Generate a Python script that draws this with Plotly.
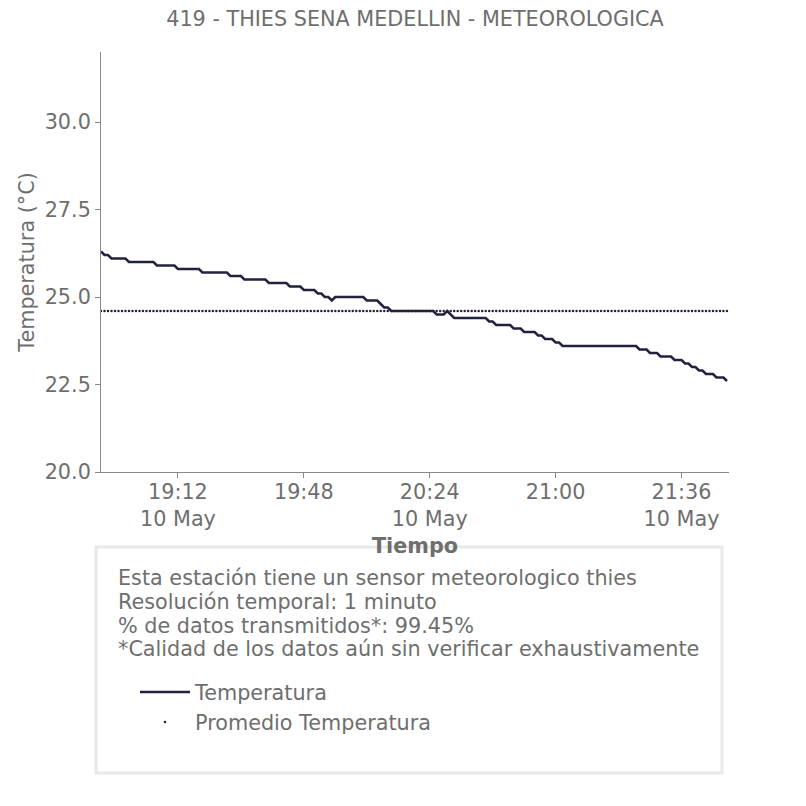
import pandas as pd
import plotly.graph_objects as go

title_text = "419 - THIES SENA MEDELLIN - METEOROLOGICA"
start_time = "2023-05-10 18:50"
n_minutes = 180

temperatura = [
    26.3, 26.2, 26.2, 26.1, 26.1, 26.1, 26.1, 26.1, 26.0, 26.0,
    26.0, 26.0, 26.0, 26.0, 26.0, 26.0, 25.9, 25.9, 25.9, 25.9,
    25.9, 25.9, 25.8, 25.8, 25.8, 25.8, 25.8, 25.8, 25.8, 25.7,
    25.7, 25.7, 25.7, 25.7, 25.7, 25.7, 25.7, 25.6, 25.6, 25.6,
    25.6, 25.5, 25.5, 25.5, 25.5, 25.5, 25.5, 25.5, 25.4, 25.4,
    25.4, 25.4, 25.4, 25.4, 25.3, 25.3, 25.3, 25.3, 25.2, 25.2,
    25.2, 25.2, 25.1, 25.1, 25.0, 25.0, 24.9, 25.0, 25.0, 25.0,
    25.0, 25.0, 25.0, 25.0, 25.0, 25.0, 24.9, 24.9, 24.9, 24.9,
    24.8, 24.7, 24.7, 24.6, 24.6, 24.6, 24.6, 24.6, 24.6, 24.6,
    24.6, 24.6, 24.6, 24.6, 24.6, 24.6, 24.5, 24.5, 24.5, 24.6,
    24.5, 24.4, 24.4, 24.4, 24.4, 24.4, 24.4, 24.4, 24.4, 24.4,
    24.4, 24.3, 24.3, 24.2, 24.2, 24.2, 24.2, 24.2, 24.1, 24.1,
    24.1, 24.0, 24.0, 24.0, 24.0, 23.9, 23.9, 23.8, 23.8, 23.8,
    23.7, 23.7, 23.6, 23.6, 23.6, 23.6, 23.6, 23.6, 23.6, 23.6,
    23.6, 23.6, 23.6, 23.6, 23.6, 23.6, 23.6, 23.6, 23.6, 23.6,
    23.6, 23.6, 23.6, 23.6, 23.5, 23.5, 23.5, 23.4, 23.4, 23.4,
    23.3, 23.3, 23.3, 23.3, 23.2, 23.2, 23.2, 23.1, 23.1, 23.0,
    23.0, 22.9, 22.9, 22.8, 22.8, 22.8, 22.7, 22.7, 22.7, 22.6,
]
promedio = 24.6

x_tickvals = ["2023-05-10 19:12", "2023-05-10 19:48", "2023-05-10 20:24",
              "2023-05-10 21:00", "2023-05-10 21:36"]
x_ticktext = ["19:12<br>10 May", "19:48", "20:24<br>10 May", "21:00", "21:36<br>10 May"]
y_tickvals = [20.0, 22.5, 25.0, 27.5, 30.0]
y_range = [20, 32]

info_lines = [
    "Esta estación tiene un sensor meteorologico thies",
    "Resolución temporal: 1 minuto",
    "% de datos transmitidos*: 99.45%",
    "*Calidad de los datos aún sin verificar exhaustivamente",
]

times = pd.date_range(start=start_time, periods=n_minutes, freq="1min")

FONT = "DejaVu Sans"
GREY = "rgb(110,110,110)"
NAVY = "#22223f"
FS = 20.75

# plot area in page pixels: x 101..729, y 52..472 (page has an 8px body offset)
PX0, PY0, PW, PH = 101, 52, 628, 420
OFF = 8


def px(x):
    return (x - PX0) / PW


def py(y):
    return (PY0 + PH - y) / PH


fig = go.Figure()
fig.add_trace(go.Scatter(
    x=times, y=temperatura, mode="lines", name="Temperatura",
    line=dict(color=NAVY, width=2.5),
))
fig.add_trace(go.Scatter(
    x=times, y=[promedio] * len(times), mode="markers", name="Promedio Temperatura",
    marker=dict(color=NAVY, size=2.5),
))

fig.update_layout(
    width=806, height=806,
    paper_bgcolor="white", plot_bgcolor="white",
    font=dict(family=FONT, color=GREY, size=FS),
    margin=dict(l=PX0 - OFF, r=806 - (PX0 - OFF) - PW, t=PY0 - OFF,
                b=806 - (PY0 - OFF) - PH, autoexpand=False),
    title=dict(text=title_text, x=(415 - OFF) / 806, xanchor="center",
               y=1 - (19 - OFF) / 806, yanchor="middle",
               font=dict(size=FS, color=GREY)),
    xaxis=dict(
        title=dict(text="<b>Tiempo</b>", font=dict(size=FS, color=GREY), standoff=8),
        range=[times[0], times[-1] + pd.Timedelta(seconds=35)],
        tickvals=x_tickvals, ticktext=x_ticktext,
        showgrid=False, zeroline=False, showline=True, linecolor="#888888", linewidth=1,
        ticks="outside", ticklen=5, tickcolor="#888888", ticklabelstandoff=-4,
        tickfont=dict(size=FS, color=GREY),
    ),
    yaxis=dict(
        title=dict(text="Temperatura (°C)", font=dict(size=FS, color=GREY), standoff=4),
        range=y_range, tickvals=y_tickvals, tickformat=".1f",
        showgrid=False, zeroline=False, showline=True, linecolor="#888888", linewidth=1,
        ticks="outside", ticklen=5, tickcolor="#888888",
        tickfont=dict(size=FS, color=GREY),
    ),
    legend=dict(
        x=px(135), y=py(672), xanchor="left", yanchor="top",
        bgcolor="rgba(0,0,0,0)", font=dict(size=FS, color=GREY),
        itemwidth=50,
    ),
    showlegend=True,
)

fig.add_shape(
    type="rect", xref="paper", yref="paper",
    x0=px(96), x1=px(722), y0=py(773), y1=py(547),
    line=dict(color="#e8e8e8", width=3), fillcolor="rgba(0,0,0,0)", layer="below",
)

line_centers = [578, 602, 626, 649]
for txt, yc in zip(info_lines, line_centers):
    fig.add_annotation(
        xref="paper", yref="paper", x=px(116), y=py(yc),
        xanchor="left", yanchor="middle", align="left",
        text=txt, showarrow=False,
        font=dict(size=FS, color=GREY, family=FONT),
    )

fig.write_html("out.html")
